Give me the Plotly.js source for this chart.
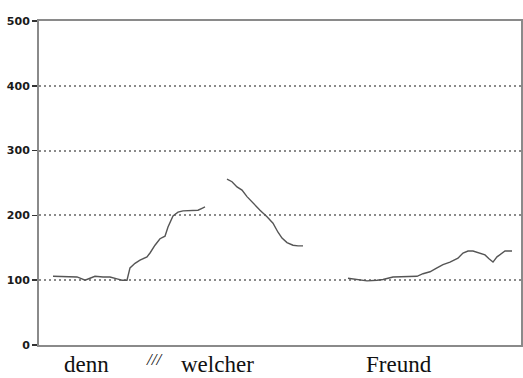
<!DOCTYPE html>
<html>
<head>
<meta charset="utf-8">
<script src="https://cdn.plot.ly/plotly-3.0.1.min.js"></script>
<style>html,body{margin:0;padding:0;background:#fff;}#chart{width:523px;height:378px;}</style>
</head>
<body>
<div id="chart"></div>
<script>
// Pitch contour (Hz) over time, three voiced stretches
const seg1Time = [14, 26, 38, 43, 46, 51, 56, 64, 71, 78, 83, 88, 91, 96, 101, 108, 111, 116, 121, 126, 129, 134, 139, 144, 151, 159, 163, 166];
const seg1Hz   = [106, 105, 105, 102, 100, 103, 106, 105, 105, 102, 100, 100, 119, 126, 131, 136, 142, 154, 164, 168, 182, 199, 205, 207, 208, 208, 211, 213];
const seg2Time = [188, 193, 198, 203, 208, 214, 221, 228, 234, 239, 243, 248, 254, 259, 264];
const seg2Hz   = [256, 252, 244, 239, 229, 219, 208, 198, 188, 174, 165, 158, 154, 153, 153];
const seg3Time = [309, 314, 321, 328, 338, 344, 354, 368, 378, 384, 391, 398, 404, 411, 419, 424, 429, 434, 441, 446, 450, 454, 458, 463, 466, 473];
const seg3Hz   = [103, 102, 100, 99, 100, 101, 105, 105, 106, 110, 113, 119, 124, 128, 134, 142, 145, 145, 142, 139, 133, 128, 136, 142, 145, 145];
const yTicks = [0, 100, 200, 300, 400, 500];
const words = ["denn", "welcher", "Freund"];
const wordTime = [47, 178, 360];
const breakMark = "///";
const breakTime = [115];

const serif = '"Liberation Serif", "DejaVu Serif", serif';
const lineStyle = {color: '#555555', width: 1.4};
const traces = [
  {x: seg1Time, y: seg1Hz, mode: 'lines', line: lineStyle, hoverinfo: 'skip'},
  {x: seg2Time, y: seg2Hz, mode: 'lines', line: lineStyle, hoverinfo: 'skip'},
  {x: seg3Time, y: seg3Hz, mode: 'lines', line: lineStyle, hoverinfo: 'skip'}
];

const annotations = words.map((w, i) => ({
  text: w, x: wordTime[i], xref: 'x', y: 0, yref: 'paper',
  yanchor: 'top', xanchor: 'center', yshift: -5, showarrow: false,
  font: {family: serif, size: 23, color: '#111111'}
}));
annotations.push({
  text: '<i>' + breakMark + '</i>', x: breakTime[0], xref: 'x', y: 0, yref: 'paper',
  yanchor: 'top', xanchor: 'center', yshift: -3, showarrow: false,
  font: {family: serif, size: 17, color: '#111111'}
});

const layout = {
  width: 523, height: 378,
  margin: {l: 39, r: 2, t: 21, b: 33, pad: 0},
  paper_bgcolor: '#ffffff', plot_bgcolor: '#ffffff',
  showlegend: false,
  xaxis: {
    range: [0, 482], showgrid: false, zeroline: false, showticklabels: false,
    ticks: '', showline: true, linecolor: '#8a8a8a', linewidth: 2, mirror: true, fixedrange: true
  },
  yaxis: {
    range: [0, 500], tickvals: yTicks, ticktext: yTicks.map(v => '<b>' + v + '</b>'),
    showgrid: true, gridcolor: '#8a8a8a', gridwidth: 2, griddash: '2px,3px',
    zeroline: false, showline: true, linecolor: '#8a8a8a', linewidth: 2, mirror: true,
    ticks: 'outside', ticklen: 5, tickwidth: 1.5, tickcolor: '#333333',
    tickfont: {family: '"DejaVu Sans", sans-serif', size: 11, color: '#1a1a1a', weight: 'bold'},
    fixedrange: true
  },
  annotations: annotations
};

Plotly.newPlot('chart', traces, layout, {displayModeBar: false, staticPlot: true});
</script>
</body>
</html>
